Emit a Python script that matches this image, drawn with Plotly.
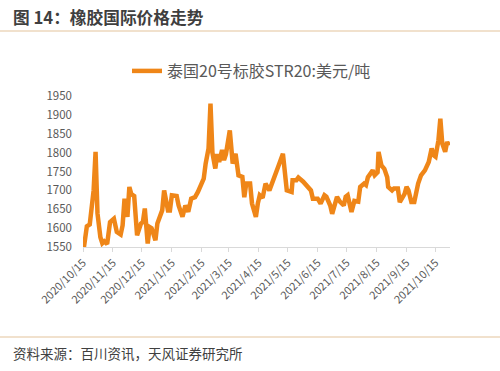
import plotly.graph_objects as go

# ---- data ----
dates = [
    "2020-10-15", "2020-10-16", "2020-10-19", "2020-10-22", "2020-10-26", "2020-10-28",
    "2020-10-30", "2020-11-02", "2020-11-04", "2020-11-06", "2020-11-09", "2020-11-12",
    "2020-11-16", "2020-11-19", "2020-11-23", "2020-11-25", "2020-11-27", "2020-11-30",
    "2020-12-02", "2020-12-04", "2020-12-07", "2020-12-10", "2020-12-14", "2020-12-16",
    "2020-12-18", "2020-12-21", "2020-12-23", "2020-12-25", "2020-12-29", "2020-12-31",
    "2021-01-05", "2021-01-07", "2021-01-11", "2021-01-13", "2021-01-15", "2021-01-20",
    "2021-01-22", "2021-01-26", "2021-01-29", "2021-02-01", "2021-02-04", "2021-02-08",
    "2021-02-11", "2021-02-17", "2021-02-19", "2021-02-22", "2021-02-24", "2021-02-25",
    "2021-02-26", "2021-03-01", "2021-03-03", "2021-03-05", "2021-03-08", "2021-03-10",
    "2021-03-12", "2021-03-16", "2021-03-18", "2021-03-19", "2021-03-22", "2021-03-25",
    "2021-03-29", "2021-03-31", "2021-04-02", "2021-04-06", "2021-04-08", "2021-04-12",
    "2021-04-14", "2021-04-16", "2021-04-19", "2021-04-22", "2021-04-26", "2021-04-30",
    "2021-05-05", "2021-05-10", "2021-05-12", "2021-05-14", "2021-05-19", "2021-05-20",
    "2021-05-24", "2021-05-26", "2021-05-31", "2021-06-04", "2021-06-08", "2021-06-10",
    "2021-06-15", "2021-06-18", "2021-06-22", "2021-06-24", "2021-06-28", "2021-06-30",
    "2021-07-05", "2021-07-08", "2021-07-12", "2021-07-14", "2021-07-16", "2021-07-20",
    "2021-07-23", "2021-07-27", "2021-07-29", "2021-08-02", "2021-08-04", "2021-08-06",
    "2021-08-09", "2021-08-11", "2021-08-13", "2021-08-16", "2021-08-17", "2021-08-20",
    "2021-08-23", "2021-08-26", "2021-08-27", "2021-08-31", "2021-09-02", "2021-09-06",
    "2021-09-08", "2021-09-13", "2021-09-15", "2021-09-17", "2021-09-20", "2021-09-23",
    "2021-09-27", "2021-09-30", "2021-10-04", "2021-10-08", "2021-10-11", "2021-10-13",
    "2021-10-15", "2021-10-18", "2021-10-20", "2021-10-22", "2021-10-25", "2021-10-27",
    "2021-10-29",
]
prices = [
    1548, 1550, 1605, 1610, 1700, 1802,
    1639, 1576, 1560, 1565, 1558, 1616,
    1625, 1590, 1583, 1607, 1678, 1630,
    1709, 1690, 1685, 1581, 1612, 1616,
    1652, 1559, 1603, 1600, 1568, 1612,
    1647, 1700, 1647, 1647, 1687, 1685,
    1660, 1630, 1660, 1643, 1678, 1682,
    1696, 1731, 1771, 1811, 1930, 1807,
    1800, 1758, 1796, 1775, 1807, 1780,
    1796, 1859, 1793, 1771, 1797, 1740,
    1736, 1682, 1718, 1718, 1665, 1630,
    1665, 1687, 1680, 1718, 1700, 1731,
    1762, 1797, 1757, 1700, 1696, 1727,
    1727, 1734, 1723, 1710, 1700, 1678,
    1678, 1665, 1687, 1683, 1660, 1638,
    1683, 1670, 1660, 1683, 1687, 1643,
    1672, 1670, 1709, 1718, 1714, 1735,
    1744, 1753, 1740, 1748, 1802, 1766,
    1757, 1735, 1709, 1700, 1705, 1705,
    1669, 1691, 1709, 1700, 1669, 1669,
    1718, 1740, 1753, 1775, 1811, 1793,
    1789, 1832, 1890, 1824, 1802, 1828,
    1819,
]
series_name = "泰国20号标胶STR20:美元/吨"
x_tick_dates = [
    "2020-10-15", "2020-11-15", "2020-12-15", "2021-01-15", "2021-02-15",
    "2021-03-15", "2021-04-15", "2021-05-15", "2021-06-15", "2021-07-15",
    "2021-08-15", "2021-09-15", "2021-10-15",
]
x_tick_labels = [
    "2020/10/15", "2020/11/15", "2020/12/15", "2021/1/15", "2021/2/15",
    "2021/3/15", "2021/4/15", "2021/5/15", "2021/6/15", "2021/7/15",
    "2021/8/15", "2021/9/15", "2021/10/15",
]
y_ticks = [1550, 1600, 1650, 1700, 1750, 1800, 1850, 1900, 1950]
title_text = "图 14：橡胶国际价格走势"
source_text = "资料来源：百川资讯，天风证券研究所"

# ---- layout geometry (pixels) ----
W, H = 500, 371
L, R, T, B = 83, 50, 96, 124
PW, PH = W - L - R, H - T - B


def px_x(p):
    return (p - L) / PW


def px_y(p):
    return (H - B - p) / PH


FONT = "Noto Sans CJK SC, Noto Sans, sans-serif"
ORANGE = "#EF8618"

fig = go.Figure()
fig.add_trace(go.Scatter(
    x=dates, y=prices, mode="lines", name=series_name,
    line=dict(color=ORANGE, width=4.5),
    showlegend=True,
))

fig.update_layout(
    width=W, height=H,
    margin=dict(l=L, r=R, t=T, b=B, autoexpand=False),
    paper_bgcolor="white", plot_bgcolor="white",
    font=dict(family=FONT, color="#595959"),
    showlegend=True,
    legend=dict(
        orientation="h", x=px_x(127), xanchor="left", y=px_y(71), yanchor="middle",
        font=dict(size=16, color="#595959", family=FONT),
        bgcolor="rgba(0,0,0,0)", itemwidth=30,
    ),
    xaxis=dict(
        type="date",
        range=["2020-10-15", "2021-10-30"],
        tickvals=x_tick_dates, ticktext=x_tick_labels,
        tickangle=-45,
        tickfont=dict(size=11, color="#595959", family=FONT),
        showgrid=False, zeroline=False,
        showline=True, linecolor="#D9D9D9", linewidth=1,
        ticks="outside", ticklen=4, tickcolor="#D9D9D9",
    ),
    yaxis=dict(
        range=[1550, 1950],
        tickvals=y_ticks,
        tickfont=dict(size=11.5, color="#595959", family=FONT),
        showgrid=False, zeroline=False, showline=False,
        ticks="", ticklabelstandoff=10,
    ),
    annotations=[
        dict(text=f"<b>{title_text}</b>", xref="paper", yref="paper",
             x=px_x(11), y=px_y(17), xanchor="left", yanchor="middle",
             showarrow=False, font=dict(size=16.7, color="#3F3F3F", family=FONT)),
        dict(text=source_text, xref="paper", yref="paper",
             x=px_x(11), y=px_y(353), xanchor="left", yanchor="middle",
             showarrow=False, font=dict(size=13.5, color="#404040", family=FONT)),
    ],
    shapes=[
        dict(type="line", xref="paper", yref="paper",
             x0=px_x(0), x1=px_x(500), y0=px_y(31), y1=px_y(31),
             line=dict(color="#E3C39B", width=1)),
        dict(type="line", xref="paper", yref="paper",
             x0=px_x(0), x1=px_x(500), y0=px_y(337), y1=px_y(337),
             line=dict(color="#E3C39B", width=1)),
    ],
)

fig.write_html("out.html", config={"displayModeBar": False},
               post_script="document.body.style.margin='0';")
